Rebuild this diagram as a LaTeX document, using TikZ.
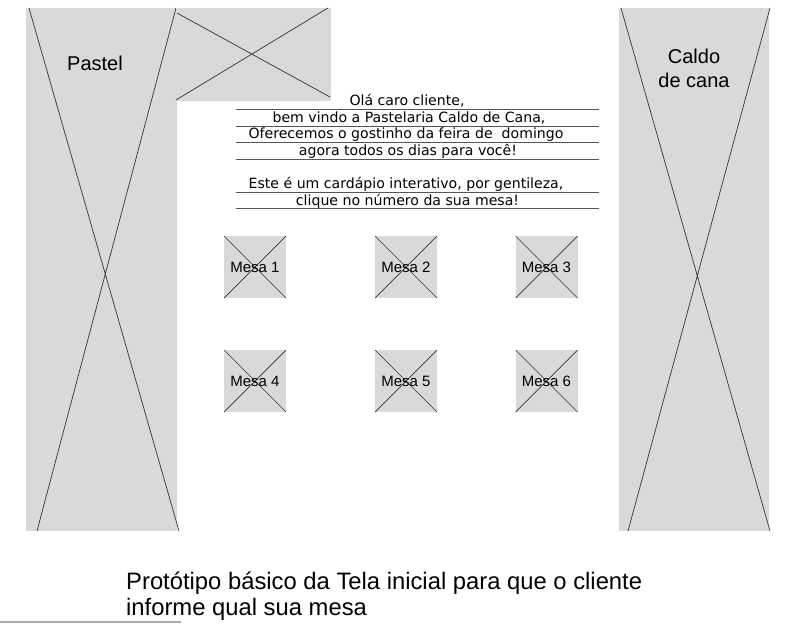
\documentclass[tikz,border=0pt]{standalone}
\usepackage{fontspec}
\setmainfont{Liberation Sans}
\newfontfamily\bodyfont{DejaVu Sans}
\definecolor{wirefill}{HTML}{D9D9D9}
\definecolor{crossc}{HTML}{333333}
\definecolor{rulec}{HTML}{555555}
\definecolor{basec}{HTML}{AAAAAA}
\begin{document}
\begin{tikzpicture}[x=1pt,y=-1pt,
  crossline/.style={draw=crossc,line width=0.7pt},
  textrule/.style={draw=rulec,line width=0.9pt},
  bodytext/.style={inner sep=0pt,anchor=base,font=\bodyfont\fontsize{14.1}{16}\selectfont},
  paneltext/.style={inner sep=0pt,anchor=base,font=\fontsize{20}{24}\selectfont,align=center},
  mesabox/.style={fill=wirefill,minimum width=62pt,minimum height=62pt,inner sep=0pt,
    font=\fontsize{15}{18}\selectfont,
    path picture={\draw[crossline] (path picture bounding box.north west) -- (path picture bounding box.south east)
      (path picture bounding box.north east) -- (path picture bounding box.south west);}}
]
\useasboundingbox (0,0) rectangle (802,624);
% left panel
\fill[wirefill] (26,8) rectangle (177,531);
\draw[crossline] (29,8) -- (179,531) (176,8) -- (37,531);
\node[paneltext] (pastel) at (95,70) {Pastel};
% top box
\fill[wirefill] (176,8) rectangle (331,101);
\draw[crossline] (177,13) -- (330,97) (176,100) -- (328,8);
% right panel
\fill[wirefill] (619,8) rectangle (769,531);
\draw[crossline] (621,8) -- (770,531) (770,8) -- (628,531);
\node[paneltext] (caldo) at (694,87) {Caldo\\de cana};
% text rules
\foreach \yy in {109,126,142,159,192,208}
  \draw[textrule] (236,\yy) -- (599,\yy);
\node[bodytext] (t1) at (407,105) {Olá caro cliente,};
\node[bodytext] (t2) at (409,122) {bem vindo a Pastelaria Caldo de Cana,};
\node[bodytext] (t3) at (406,138.5) {Oferecemos o gostinho da feira de \ domingo};
\node[bodytext] (t4) at (408,155) {agora todos os dias para você!};
\node[bodytext] (t5) at (406,188) {Este é um cardápio interativo, por gentileza,};
\node[bodytext] (t6) at (407.5,205) {clique no número da sua mesa!};
% mesas
\node[mesabox] (m1) at (255,267) {Mesa 1};
\node[mesabox] (m2) at (406,267) {Mesa 2};
\node[mesabox] (m3) at (546.5,267) {Mesa 3};
\node[mesabox] (m4) at (255,381) {Mesa 4};
\node[mesabox] (m5) at (406,381) {Mesa 5};
\node[mesabox] (m6) at (546.5,381) {Mesa 6};
% caption
\node[inner sep=0pt,anchor=base west,align=left,font=\fontsize{23.8}{26}\selectfont] (cap) at (126,615)
  {Protótipo básico da Tela inicial para que o cliente\\informe qual sua mesa};
\draw[draw=basec,line width=2pt] (0,622) -- (181,622);
\end{tikzpicture}
\end{document}
